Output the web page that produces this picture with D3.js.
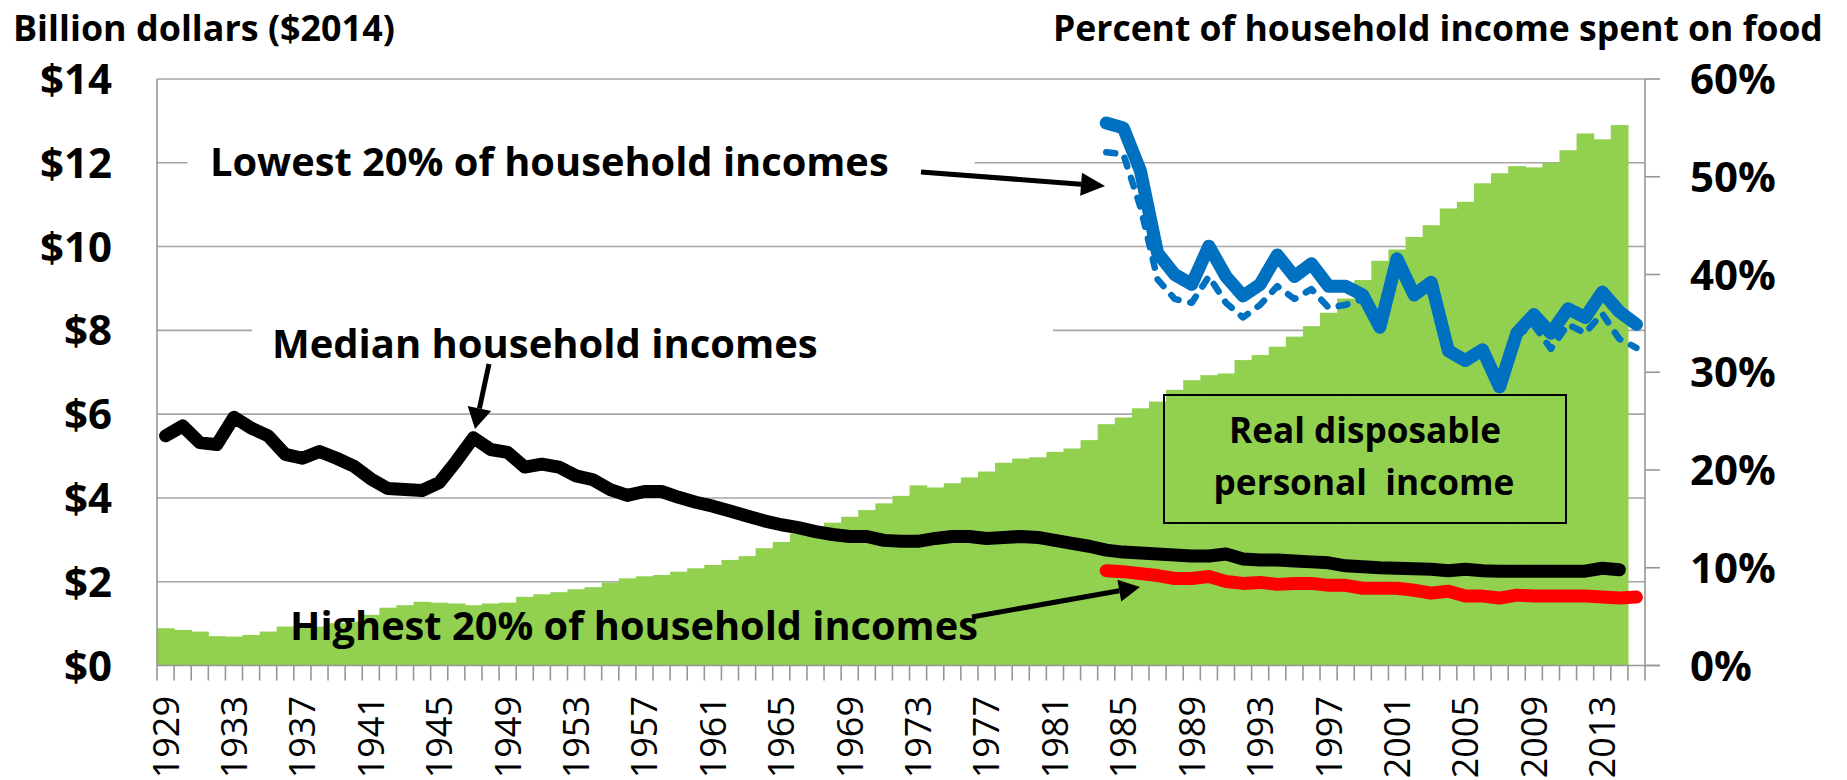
<!DOCTYPE html>
<html>
<head>
<meta charset="utf-8">
<script src="https://cdn.jsdelivr.net/npm/d3@7"></script>
<style>
  html, body { margin: 0; padding: 0; background: #fff; }
  svg { display: block; font-family: "Open Sans", "Noto Sans", sans-serif; }
</style>
</head>
<body>
<svg id="chart" width="1847" height="780"></svg>
<script>
// ---- Categories -------------------------------------------------------
const years = [
  1929,1930,1931,1932,1933,1934,1935,1936,1937,1938,1939,1940,1941,1942,1943,1944,1945,1946,1947,1948,
  1949,1950,1951,1952,1953,1954,1955,1956,1957,1958,1959,1960,1961,1962,1963,1964,1965,1966,1967,1968,
  1969,1970,1971,1972,1973,1974,1975,1976,1977,1978,1979,1980,1981,1982,1983,1984,1985,1986,1987,1988,
  1989,1990,1991,1992,1993,1994,1995,1996,1997,1998,1999,2000,2001,2002,2003,2004,2005,2006,2007,2008,
  2009,2010,2011,2012,2013,2014,2015
];
const yearLabels = [1929,1933,1937,1941,1945,1949,1953,1957,1961,1965,1969,1973,1977,1981,1985,1989,1993,1997,2001,2005,2009,2013];

// ---- Real disposable personal income (left axis), 1929-2014 ------------
const income = [
  0.89,0.85,0.81,0.70,0.69,0.73,0.81,0.93,0.95,0.93,1.01,1.05,1.21,1.38,1.44,1.52,1.50,1.48,1.44,1.48,
  1.50,1.64,1.70,1.75,1.82,1.87,1.98,2.08,2.13,2.16,2.24,2.32,2.40,2.52,2.61,2.80,2.95,3.15,3.31,3.41,
  3.55,3.71,3.87,4.05,4.30,4.25,4.35,4.49,4.63,4.84,4.94,4.97,5.10,5.18,5.38,5.76,5.92,6.14,6.30,6.58,
  6.81,6.93,6.97,7.29,7.41,7.61,7.85,8.10,8.42,8.76,9.20,9.66,9.93,10.23,10.51,10.91,11.07,11.51,11.75,11.92,
  11.89,12.00,12.30,12.70,12.56,12.90
];

// ---- Percent of income spent on food (right axis) ----------------------
// Median households, 1929-2014
const medianShare = [
  23.5,24.5,22.8,22.6,25.4,24.3,23.5,21.6,21.2,21.9,21.2,20.4,19.1,18.1,18.0,17.9,18.7,20.9,23.3,22.1,
  21.8,20.3,20.6,20.3,19.4,19.0,18.0,17.4,17.8,17.8,17.2,16.7,16.3,15.8,15.3,14.8,14.4,14.1,13.7,13.4,
  13.2,13.2,12.8,12.7,12.7,13.0,13.2,13.2,13.0,13.1,13.2,13.1,12.8,12.5,12.2,11.8,11.6,11.5,11.4,11.3,
  11.2,11.2,11.4,10.9,10.8,10.8,10.7,10.6,10.5,10.2,10.1,10.0,9.95,9.9,9.85,9.7,9.85,9.7,9.65,9.65,
  9.65,9.65,9.65,9.65,9.95,9.8
];
// Quintile series, 1984-2015
const shareYears = [
  1984,1985,1986,1987,1988,1989,1990,1991,1992,1993,1994,1995,1996,1997,1998,1999,
  2000,2001,2002,2003,2004,2005,2006,2007,2008,2009,2010,2011,2012,2013,2014,2015
];
const lowestShare = [
  55.5,55.0,50.6,42.2,40.0,39.0,42.9,39.8,37.8,39.0,42.0,39.8,41.1,38.8,38.8,37.9,
  34.6,41.6,37.9,39.2,32.2,31.2,32.3,28.5,34.0,35.9,34.0,36.5,35.6,38.2,36.2,34.9
];
const lowestShareAlt = [
  52.5,52.3,46.9,39.5,37.5,37.1,39.8,37.1,35.6,36.9,38.8,37.5,38.5,36.6,36.9,37.5,
  34.4,41.4,37.7,39.0,32.0,31.0,32.1,28.3,33.8,34.8,32.4,34.9,34.0,36.0,33.4,32.5
];
const highestShare = [
  9.7,9.6,9.4,9.2,8.9,8.9,9.1,8.6,8.4,8.5,8.3,8.4,8.4,8.2,8.2,7.9,
  7.9,7.9,7.7,7.4,7.6,7.1,7.1,6.9,7.2,7.1,7.1,7.1,7.1,7.0,6.9,7.0
];

// ---- Axis ticks --------------------------------------------------------
const leftTicks = [0,2,4,6,8,10,12,14];
const leftTickLabels = ["$0","$2","$4","$6","$8","$10","$12","$14"];
const rightTicks = [0,10,20,30,40,50,60];
const rightTickLabels = ["0%","10%","20%","30%","40%","50%","60%"];

// ---- Layout ------------------------------------------------------------
const plot = { left: 157, right: 1645, top: 79, bottom: 665.5 };
const GRID = "#A6A6A6", AXIS = "#969696";
const GREEN = "#92D050", BLUE = "#0070C0", RED = "#FF0000", BLACK = "#000000";

const svg = d3.select("#chart");

const x = d3.scaleBand().domain(years).range([plot.left, plot.right]).padding(0);
const yL = d3.scaleLinear().domain([0, 14]).range([plot.bottom, plot.top]);
const yR = d3.scaleLinear().domain([0, 60]).range([plot.bottom, plot.top]);
const cx = yr => x(yr) + x.bandwidth() / 2;

// scale a text's font size so its rendered width equals `width`
function fitText(sel, width) {
  const base = parseFloat(sel.attr("font-size"));
  const w = sel.node().getComputedTextLength();
  if (w > 0) sel.attr("font-size", base * width / w);
  return sel;
}

// horizontal gridlines from the dollar axis
svg.append("g").selectAll("line")
  .data(leftTicks.filter(v => v > 0))
  .join("line")
  .attr("x1", plot.left).attr("x2", plot.right)
  .attr("y1", d => yL(d)).attr("y2", d => yL(d))
  .attr("stroke", GRID).attr("stroke-width", 1.6);

// income columns
svg.append("g").selectAll("rect")
  .data(income)
  .join("rect")
  .attr("x", (d, i) => x(years[i]))
  .attr("width", x.bandwidth() + 0.6)
  .attr("y", d => yL(d))
  .attr("height", d => yL(0) - yL(d))
  .attr("fill", GREEN);

// white-filled label boxes that sit over the gridlines
svg.append("rect").attr("x", 187.5).attr("y", 136).attr("width", 787).attr("height", 62).attr("fill", "#fff");
svg.append("rect").attr("x", 252).attr("y", 314).attr("width", 801).attr("height", 62).attr("fill", "#fff");

// axes
const axes = svg.append("g").attr("stroke", AXIS).attr("stroke-width", 1.6);
axes.append("line").attr("x1", plot.left).attr("x2", plot.left).attr("y1", plot.top).attr("y2", plot.bottom);
axes.append("line").attr("x1", plot.left).attr("x2", plot.right + 15).attr("y1", plot.bottom).attr("y2", plot.bottom);
axes.append("line").attr("x1", plot.right).attr("x2", plot.right).attr("y1", plot.top).attr("y2", plot.bottom);

// category tick marks on band edges
axes.selectAll("line.xt")
  .data(years.map(d => x(d)).concat([plot.right]))
  .join("line").attr("class", "xt")
  .attr("x1", d => d).attr("x2", d => d)
  .attr("y1", plot.bottom).attr("y2", plot.bottom + 15);

// right-axis tick marks
axes.selectAll("line.rt")
  .data(rightTicks)
  .join("line").attr("class", "rt")
  .attr("x1", plot.right).attr("x2", plot.right + 15)
  .attr("y1", d => yR(d)).attr("y2", d => yR(d));

// left tick labels
svg.append("g").selectAll("text")
  .data(leftTicks)
  .join("text")
  .attr("x", 112).attr("y", d => yL(d)).attr("dy", "0.36em")
  .attr("text-anchor", "end")
  .attr("font-size", 42).attr("font-weight", 700)
  .text((d, i) => leftTickLabels[i]);

// right tick labels
svg.append("g").selectAll("text")
  .data(rightTicks)
  .join("text")
  .attr("x", 1690).attr("y", d => yR(d)).attr("dy", "0.36em")
  .attr("text-anchor", "start")
  .attr("font-size", 42).attr("font-weight", 700)
  .text((d, i) => rightTickLabels[i]);

// year labels, rotated
svg.append("g").selectAll("text")
  .data(yearLabels)
  .join("text")
  .attr("transform", d => `translate(${cx(d)},696) rotate(-90)`)
  .attr("dy", "0.36em")
  .attr("text-anchor", "end")
  .attr("font-size", 36).attr("font-weight", 400)
  .text(d => d);

// food-share lines
const lineR = (xs, vals) => d3.line()
  .x((d, i) => cx(xs[i]))
  .y(d => yR(d))(vals);

const lines = svg.append("g").attr("fill", "none")
  .attr("stroke-linecap", "round").attr("stroke-linejoin", "round");

lines.append("path").attr("d", lineR(years, medianShare))
  .attr("stroke", BLACK).attr("stroke-width", 13);
lines.append("path").attr("d", lineR(shareYears, highestShare))
  .attr("stroke", RED).attr("stroke-width", 13);
lines.append("path").attr("d", lineR(shareYears, lowestShareAlt))
  .attr("stroke", BLUE).attr("stroke-width", 6.5).attr("stroke-dasharray", "9 12");
lines.append("path").attr("d", lineR(shareYears, lowestShare))
  .attr("stroke", BLUE).attr("stroke-width", 13);

// axis titles
fitText(svg.append("text").attr("x", 13).attr("y", 41)
  .attr("font-size", 34).attr("font-weight", 700)
  .text("Billion dollars ($2014)"), 382);
fitText(svg.append("text").attr("x", 1053).attr("y", 41)
  .attr("font-size", 34).attr("font-weight", 700)
  .text("Percent of household income spent on food"), 770);

// annotations
fitText(svg.append("text").attr("x", 210).attr("y", 176)
  .attr("font-size", 36).attr("font-weight", 700)
  .text("Lowest 20% of household incomes"), 679);
fitText(svg.append("text").attr("x", 272).attr("y", 358)
  .attr("font-size", 36).attr("font-weight", 700)
  .text("Median household incomes"), 546);
fitText(svg.append("text").attr("x", 290).attr("y", 640)
  .attr("font-size", 36).attr("font-weight", 700)
  .text("Highest 20% of household incomes"), 688);

// boxed label for the columns
svg.append("rect").attr("x", 1164).attr("y", 395).attr("width", 402).attr("height", 128)
  .attr("fill", "none").attr("stroke", BLACK).attr("stroke-width", 2);
fitText(svg.append("text").attr("x", 1365).attr("y", 443).attr("text-anchor", "middle")
  .attr("font-size", 34).attr("font-weight", 700)
  .text("Real disposable"), 272);
fitText(svg.append("text").attr("x", 1364).attr("y", 495).attr("text-anchor", "middle")
  .style("white-space", "pre")
  .attr("font-size", 34).attr("font-weight", 700)
  .text("personal  income"), 301);

// arrows
function arrow(x1, y1, x2, y2, headLen, headHalf, width) {
  const a = Math.atan2(y2 - y1, x2 - x1);
  const bx = x2 - headLen * Math.cos(a), by = y2 - headLen * Math.sin(a);
  const g = svg.append("g");
  g.append("line").attr("x1", x1).attr("y1", y1).attr("x2", bx).attr("y2", by)
    .attr("stroke", BLACK).attr("stroke-width", width);
  const px = -Math.sin(a) * headHalf, py = Math.cos(a) * headHalf;
  g.append("path")
    .attr("d", `M${x2},${y2}L${bx + px},${by + py}L${bx - px},${by - py}Z`)
    .attr("fill", BLACK);
}
arrow(921, 172, 1105, 186, 24, 11.5, 5);
arrow(489, 364, 475, 429, 21, 12, 5);
arrow(972, 617, 1140, 587, 21, 11, 5);
</script>
</body>
</html>
